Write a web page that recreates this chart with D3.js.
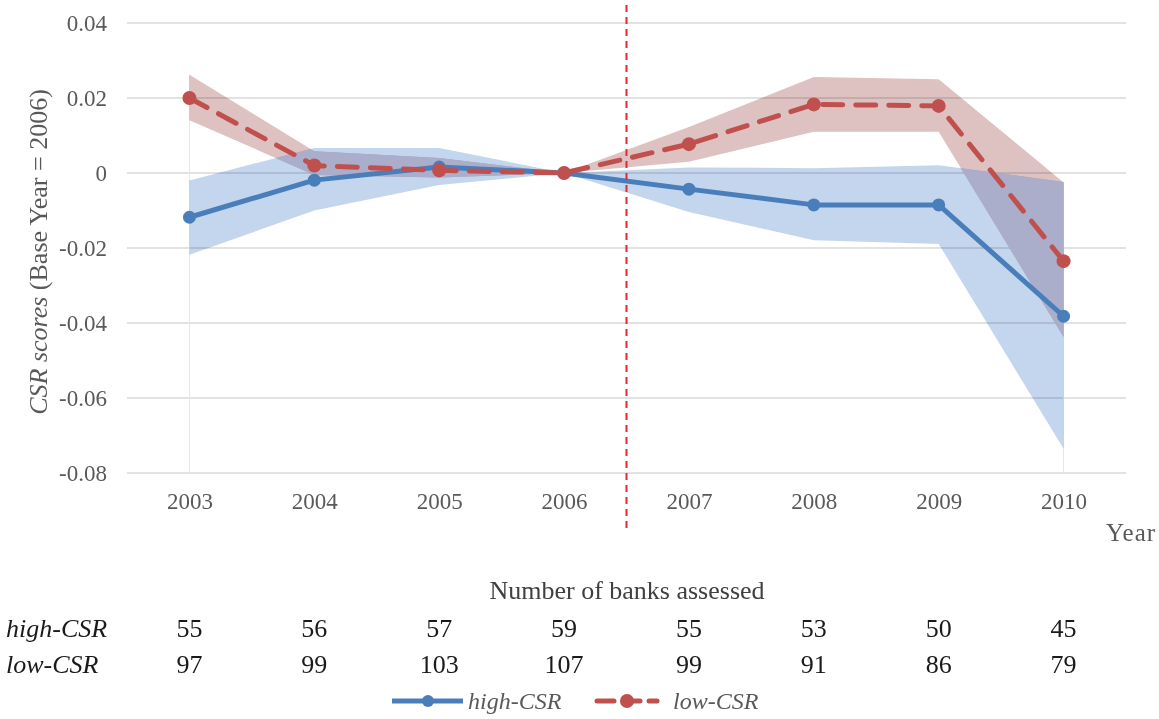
<!DOCTYPE html>
<html>
<head>
<meta charset="utf-8">
<script src="https://cdn.jsdelivr.net/npm/d3@7"></script>
<style>
  body { margin: 0; background: #fff; }
  svg { font-family: 'Liberation Serif', 'Times New Roman', serif; }
  .band { mix-blend-mode: multiply; }
</style>
</head>
<body>
<svg id="chart"></svg>
<script>
// Chart data
const years = ['2003', '2004', '2005', '2006', '2007', '2008', '2009', '2010'];
const highMean = [-0.0118, -0.0019, 0.0016, 0, -0.0043, -0.0085, -0.0085, -0.0382];
const highUpper = [-0.0020, 0.0067, 0.0067, 0, 0.0015, 0.0013, 0.0021, -0.0024];
const highLower = [-0.0218, -0.0100, -0.0032, 0, -0.0104, -0.0179, -0.0189, -0.0735];
const lowMean = [0.0200, 0.0020, 0.0007, 0, 0.0077, 0.0183, 0.0179, -0.0235];
const lowUpper = [0.0262, 0.0058, 0.0040, 0, 0.0123, 0.0256, 0.0250, -0.0025];
const lowLower = [0.0141, -0.0005, -0.0012, 0, 0.0030, 0.0110, 0.0110, -0.0437];
const yTicks = [0.04, 0.02, 0, -0.02, -0.04, -0.06, -0.08];
const banksHigh = [55, 56, 57, 59, 55, 53, 50, 45];
const banksLow = [97, 99, 103, 107, 99, 91, 86, 79];

const width = 1159, height = 719;
const margin = {top: 23, right: 33, bottom: 246, left: 127};
const innerW = width - margin.left - margin.right;
const innerH = height - margin.top - margin.bottom;

const blue = '#4a7ebb', red = '#c0504d';
const textGray = '#595959';

const svg = d3.select('#chart')
    .attr('width', width)
    .attr('height', height);

const g = svg.append('g')
    .attr('transform', `translate(${margin.left},${margin.top})`);

const x = d3.scalePoint()
    .domain(years)
    .range([0, innerW])
    .padding(0.5);

const y = d3.scaleLinear()
    .domain([-0.08, 0.04])
    .range([innerH, 0]);

// gridlines
g.append('g')
    .selectAll('line')
    .data(yTicks)
    .join('line')
    .attr('x1', 0)
    .attr('x2', innerW)
    .attr('y1', d => y(d))
    .attr('y2', d => y(d))
    .attr('stroke', '#d9d9d9')
    .attr('stroke-width', 1.5);

// y axis labels
const fmt = d => d === 0 ? '0' : d3.format('.2f')(d).replace('−', '-');
const yAxis = d3.axisLeft(y).tickValues(yTicks).tickSize(0).tickPadding(20).tickFormat(fmt);
g.append('g')
    .call(yAxis)
    .call(s => s.select('.domain').remove())
    .call(s => s.selectAll('text')
        .attr('fill', textGray)
        .style('font-size', '23px')
        .style('font-family', "'Liberation Serif', serif"));

// x axis labels
const xAxis = d3.axisBottom(x).tickSize(0).tickPadding(20);
g.append('g')
    .attr('transform', `translate(0,${innerH})`)
    .call(xAxis)
    .call(s => s.select('.domain').remove())
    .call(s => s.selectAll('text')
        .attr('fill', textGray)
        .style('font-size', '23px')
        .style('font-family', "'Liberation Serif', serif"));

// faint edge lines at first and last year
[0, years.length - 1].forEach(i => {
  g.append('line')
      .attr('x1', x(years[i]))
      .attr('x2', x(years[i]))
      .attr('y1', y(Math.max(highUpper[i], lowUpper[i])))
      .attr('y2', innerH)
      .attr('stroke', '#e6e6e6')
      .attr('stroke-width', 1);
});

// confidence bands
const area = (up, lo) => d3.area()
    .x((d, i) => x(years[i]))
    .y0((d, i) => y(lo[i]))
    .y1((d, i) => y(up[i]))(years);

g.append('defs').append('clipPath')
    .attr('id', 'clip-high')
    .append('path')
    .attr('d', area(highUpper, highLower));

g.append('path')
    .attr('class', 'band')
    .attr('d', area(highUpper, highLower))
    .attr('fill', '#c4d6ee');

g.append('path')
    .attr('class', 'band')
    .attr('d', area(lowUpper, lowLower))
    .attr('fill', '#dec2c2');

// overlap of the two bands
g.append('path')
    .attr('d', area(lowUpper, lowLower))
    .attr('clip-path', 'url(#clip-high)')
    .attr('fill', '#abaecb');

// lines
const line = vals => d3.line()
    .x((d, i) => x(years[i]))
    .y((d, i) => y(vals[i]))(years);

g.append('path')
    .attr('d', line(highMean))
    .attr('fill', 'none')
    .attr('stroke', blue)
    .attr('stroke-width', 5)
    .attr('stroke-linejoin', 'round');

g.append('g')
    .selectAll('circle')
    .data(highMean)
    .join('circle')
    .attr('cx', (d, i) => x(years[i]))
    .attr('cy', d => y(d))
    .attr('r', 6.5)
    .attr('fill', blue);

g.append('path')
    .attr('d', line(lowMean))
    .attr('fill', 'none')
    .attr('stroke', red)
    .attr('stroke-width', 5)
    .attr('stroke-dasharray', '20 13')
    .attr('stroke-linecap', 'round');

g.append('g')
    .selectAll('circle')
    .data(lowMean)
    .join('circle')
    .attr('cx', (d, i) => x(years[i]))
    .attr('cy', d => y(d))
    .attr('r', 7)
    .attr('fill', red);

// reference line between 2006 and 2007
const midX = (x('2006') + x('2007')) / 2;
g.append('line')
    .attr('x1', midX)
    .attr('x2', midX)
    .attr('y1', -18)
    .attr('y2', 509)
    .attr('stroke', '#e8262b')
    .attr('stroke-width', 2)
    .attr('stroke-dasharray', '7 5');

// axis titles
const yTitle = svg.append('text')
    .attr('transform', `translate(47,${margin.top + innerH / 2 + 4}) rotate(-90)`)
    .attr('text-anchor', 'middle')
    .attr('fill', textGray)
    .style('font-size', '26px');
yTitle.append('tspan').style('font-style', 'italic').text('CSR scores');
yTitle.append('tspan').text(' (Base Year = 2006)');

svg.append('text')
    .attr('x', 1106)
    .attr('y', 541)
    .attr('fill', textGray)
    .style('font-size', '25px')
    .style('letter-spacing', '1px')
    .text('Year');

// bank count table
svg.append('text')
    .attr('x', 627)
    .attr('y', 599)
    .attr('text-anchor', 'middle')
    .attr('fill', '#404040')
    .style('font-size', '26px')
    .text('Number of banks assessed');

const rows = [
  {label: 'high-CSR', vals: banksHigh, y: 637},
  {label: 'low-CSR', vals: banksLow, y: 673}
];

rows.forEach(r => {
  const t = svg.append('text')
      .attr('x', 6)
      .attr('y', r.y)
      .attr('fill', '#1a1a1a')
      .style('font-size', '26px')
      .style('font-style', 'italic');
  const parts = r.label.split('-');
  t.append('tspan').text(parts[0]);
  t.append('tspan').style('font-style', 'normal').text('-');
  t.append('tspan').text(parts[1]);

  svg.append('g')
      .selectAll('text')
      .data(r.vals)
      .join('text')
      .attr('x', (d, i) => margin.left + x(years[i]))
      .attr('y', r.y)
      .attr('text-anchor', 'middle')
      .attr('fill', '#1a1a1a')
      .style('font-size', '26px')
      .text(d => d);
});

// legend
const legend = svg.append('g').attr('transform', 'translate(0,701)');
legend.append('line')
    .attr('x1', 392).attr('x2', 463).attr('y1', 0).attr('y2', 0)
    .attr('stroke', blue).attr('stroke-width', 5);
legend.append('circle').attr('cx', 428).attr('cy', 0).attr('r', 6).attr('fill', blue);
legend.append('text')
    .attr('x', 468).attr('y', 8)
    .attr('fill', textGray)
    .style('font-size', '24px').style('font-style', 'italic')
    .text('high-CSR');

legend.append('line')
    .attr('x1', 597).attr('x2', 657).attr('y1', 0).attr('y2', 0)
    .attr('stroke', red).attr('stroke-width', 5)
    .attr('stroke-dasharray', '17 9').attr('stroke-linecap', 'round');
legend.append('circle').attr('cx', 627).attr('cy', 0).attr('r', 7).attr('fill', red);
legend.append('text')
    .attr('x', 673).attr('y', 8)
    .attr('fill', textGray)
    .style('font-size', '24px').style('font-style', 'italic')
    .text('low-CSR');
</script>
</body>
</html>
